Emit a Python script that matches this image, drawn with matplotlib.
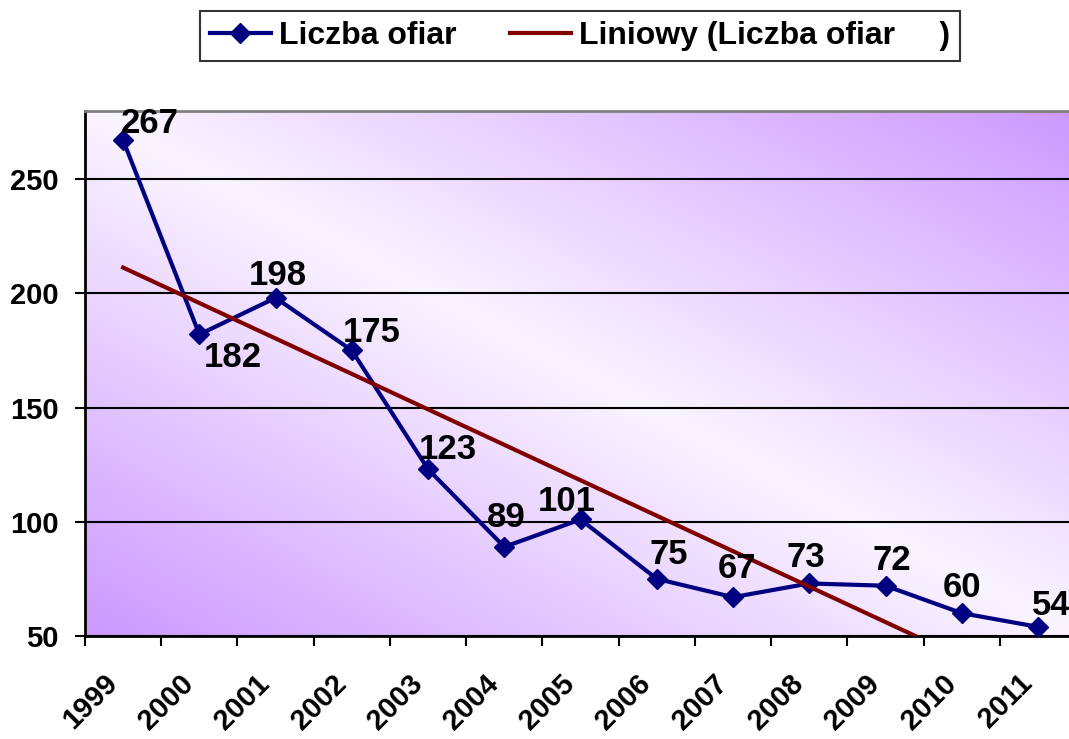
import numpy as np
import matplotlib
matplotlib.use("Agg")
import matplotlib.pyplot as plt
from matplotlib.transforms import ScaledTranslation

# data
years = ["1999", "2000", "2001", "2002", "2003", "2004", "2005",
         "2006", "2007", "2008", "2009", "2010", "2011"]
victims = [267, 182, 198, 175, 123, 89, 101, 75, 67, 73, 72, 60, 54]
y_ticks = [50, 100, 150, 200, 250]

# label offsets in pixels (dx, dy) relative to each point
label_offsets = [(27, 17), (33, -23), (2, 22), (20, 18), (20, 20), (2, 29), (-14, 18),
                 (12, 24), (4, 29), (-3, 26), (6, 25), (0, 26), (13, 21)]

plt.rcParams['font.family'] = ['Liberation Sans', 'DejaVu Sans']
plt.rcParams['font.weight'] = 'bold'

W, H = 1069, 739
fig = plt.figure(figsize=(W / 100, H / 100), dpi=100)
ax = fig.add_axes([85 / W, 1 - 636 / H, (13 * 76.24) / W, (636 - 110.5) / H])

# gradient background: purple corners (bottom-left / top-right), pale centre
xs = np.linspace(0, 1, 400)
ys = np.linspace(0, 1, 300)
gx, gy = np.meshgrid(xs, ys)
t = np.abs((gx + gy) / 2 - 0.5) * 2
centre = np.array([250, 244, 255]) / 255
corner = np.array([204, 153, 255]) / 255
img = centre[None, None, :] * (1 - t[..., None]) + corner[None, None, :] * t[..., None]
ax.imshow(img, extent=[0, 1, 0, 1], origin='lower', transform=ax.transAxes,
          aspect='auto', zorder=0, interpolation='bilinear')

x = np.arange(len(years))
ax.plot(x, victims, color='#000080', linewidth=3, marker='D', markersize=10,
        zorder=3, label='Liczba ofiar')

# linear trend (Excel "Liniowy")
coef = np.polyfit(x, victims, 1)
ax.plot(x, np.polyval(coef, x), color='#800000', linewidth=3, zorder=4,
        label='Liniowy (Liczba ofiar     )')

for xi, v, (dx, dy) in zip(x, victims, label_offsets):
    ax.annotate(str(v), (xi, v), xytext=(dx, dy), textcoords='offset pixels',
                ha='center', va='center', fontsize=25, fontweight='bold', zorder=5)

ax.set_xlim(-0.5, len(years) - 0.5)
ax.set_ylim(50, 280)
ax.set_yticks(y_ticks)
ax.set_yticklabels([str(v) for v in y_ticks])
ax.yaxis.grid(True, color='black', linewidth=1.5)
for line in ax.get_ygridlines():
    line.set_zorder(1)

ax.set_xticks(x)
ax.set_xticklabels(years, rotation=45, ha='right', rotation_mode='anchor')
ax.set_xticks(np.arange(-0.5, len(years)), minor=True)
ax.tick_params(axis='x', which='major', length=0, pad=24, labelsize=21)
ax.tick_params(axis='x', which='minor', length=7, width=1.5, direction='out')
ax.tick_params(axis='y', length=7, width=1.5, direction='out', pad=12, labelsize=21)
shift = ScaledTranslation(-20 / 100, 0, fig.dpi_scale_trans)
for lab in ax.get_xticklabels():
    lab.set_transform(lab.get_transform() + shift)

ax.spines['left'].set_linewidth(2)
ax.spines['bottom'].set_linewidth(2)
ax.spines['top'].set_color('#808080')
ax.spines['top'].set_linewidth(2)
ax.spines['right'].set_visible(False)

leg = fig.legend(loc='center', bbox_to_anchor=(580 / W, 1 - 36 / H), ncol=2,
                 prop={'size': 23, 'weight': 'bold'}, frameon=True, fancybox=False,
                 handlelength=1.9, handletextpad=0.25, columnspacing=1.7,
                 borderpad=0.3)
leg.get_frame().set_edgecolor('black')
leg.get_frame().set_linewidth(1.5)

fig.savefig("out.png", dpi=100)
plt.close(fig)
